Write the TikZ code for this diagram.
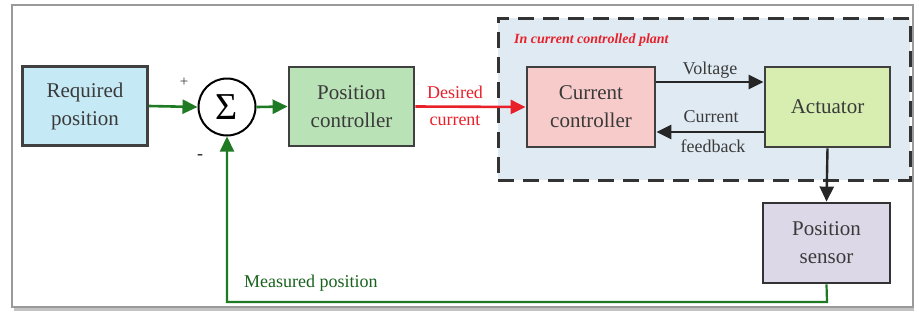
\documentclass[tikz,border=0pt]{standalone}
\usepackage{fontspec}
\setmainfont{Liberation Serif}
\usetikzlibrary{arrows.meta}
\definecolor{reqfill}{HTML}{C6E9F6}
\definecolor{pcfill}{HTML}{B9E3B6}
\definecolor{ccfill}{HTML}{F8CBCB}
\definecolor{actfill}{HTML}{D7EEB0}
\definecolor{sensfill}{HTML}{DDD8E7}
\definecolor{plantfill}{HTML}{E0EAF3}
\definecolor{sigdark}{HTML}{1F7A24}
\definecolor{sigred}{HTML}{E8202A}
\definecolor{boxtext}{HTML}{3A3A3A}
\definecolor{framegray}{HTML}{9A9A9A}
\tikzset{
  blockbox/.style={draw=#1, line width=2.8pt, minimum width=125pt, minimum height=79pt,
    align=center, text=boxtext, font=\fontsize{21}{28}\selectfont},
  greenarrow/.style={draw=sigdark, line width=2.6pt, -{Triangle[length=15pt,width=14pt]}},
  redarrow/.style={draw=sigred, line width=2.6pt, -{Triangle[length=15pt,width=14pt]}},
  blackarrow/.style={draw=black!85, line width=2.4pt, -{Triangle[length=15pt,width=14pt]}},
  lbl/.style={font=\fontsize{18}{22}\selectfont, inner sep=0pt}
}
\begin{document}
\begin{tikzpicture}[x=1pt, y=-1pt]
  \useasboundingbox (0,0) rectangle (919,322);
  % outer frame with a soft bottom shadow
  \draw[framegray!60, line width=3pt] (14,309) -- (914,309);
  \draw[framegray, line width=1.4pt, fill=white] (12,5) rectangle (913,307);

  % region of the current-controlled plant
  \node[draw=black!80, fill=plantfill, dash pattern=on 16pt off 9pt, line width=3pt,
        minimum width=412pt, minimum height=162pt, inner sep=0pt] (plant) at (704,99) {};
  \node[anchor=west, text=sigred, font=\fontsize{14}{16}\selectfont\bfseries\itshape, inner sep=0pt]
        (plantlbl) at (514,40) {In current controlled plant};

  % blocks
  \node[blockbox=black!75, fill=reqfill] (req) at (85,106) {Required\\position};
  \node[draw=black, line width=2pt, circle, minimum size=57pt, inner sep=0pt,
        font=\fontsize{38}{38}\selectfont] (sum) at (227,107) {Σ};
  \node[blockbox=black!75, fill=pcfill] (pc) at (351.5,106.5) {Position\\controller};
  \node[blockbox=black!75, fill=ccfill, minimum width=128pt, minimum height=80pt] (cc) at (591,107) {Current\\controller};
  \node[blockbox=black!75, fill=actfill, minimum height=80pt] (act) at (827.5,107) {Actuator};
  \node[blockbox=black!80, fill=sensfill, minimum width=127pt, minimum height=80pt] (sens) at (826.5,243) {Position\\sensor};

  % signs at the summing junction
  \node[font=\fontsize{15}{15}\selectfont, text=boxtext, inner sep=0pt] (plus) at (184,82) {+};
  \node[font=\fontsize{18}{18}\selectfont\bfseries, text=boxtext, inner sep=0pt] (minus) at (200,157) {-};

  % forward path
  \draw[greenarrow] (req.east) -- (sum.west);
  \draw[greenarrow] (sum.east) -- (pc.west);
  \draw[redarrow] (pc.east) -- (cc.west);
  \node[lbl, text=sigred] (desired) at (455,92) {Desired};
  \node[lbl, text=sigred] (current) at (455,121) {current};

  % inner loop between current controller and actuator
  \draw[blackarrow] ([yshift=25pt]cc.east) -- ([yshift=25pt]act.west);
  \draw[blackarrow] ([yshift=-25pt]act.west) -- ([yshift=-25pt]cc.east);
  \node[lbl, text=boxtext] (voltage) at (710,70) {Voltage};
  \node[lbl, text=boxtext] (curfb) at (711,117) {Current};
  \node[lbl, text=boxtext] (feedback) at (713,146) {feedback};

  % actuator to sensor
  \draw[blackarrow] (act.south) -- (sens.north);

  % measured position feedback
  \coordinate (fbcorner) at (827,302);
  \draw[greenarrow, line width=2.2pt] (sens.south) -- (fbcorner) -| (sum.south);
  \node[lbl, text=sigdark!80!black, anchor=west] (measured) at (244,283) {Measured position};
\end{tikzpicture}
\end{document}
